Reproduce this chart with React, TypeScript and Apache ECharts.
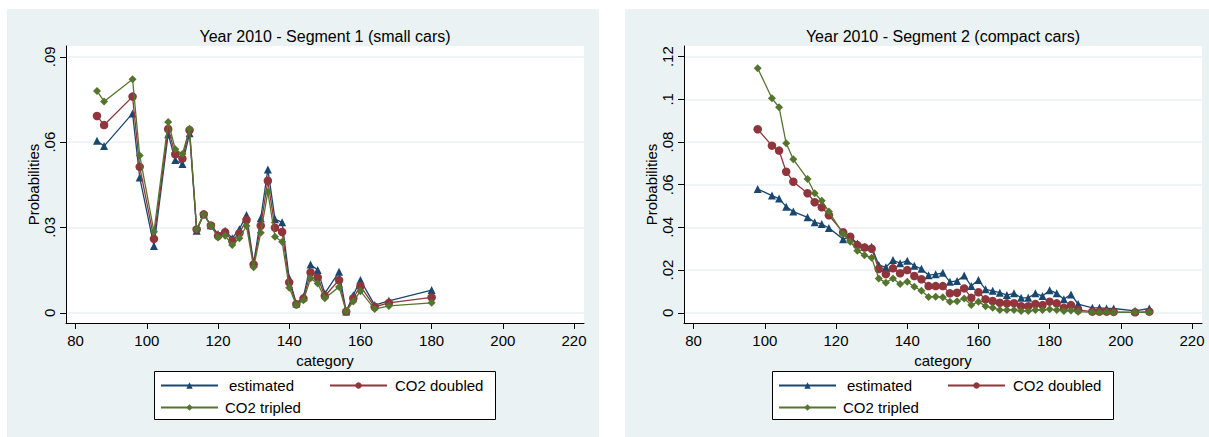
import React, { useEffect, useRef } from "react";
import * as echarts from "echarts";

const FONT = "'Liberation Sans', Arial, Helvetica, sans-serif";

const seriesNames = ["estimated", "CO2 doubled", "CO2 tripled"];
const seriesColors = ["#1a476f", "#90353b", "#55752f"];
const seriesSymbols = ["triangle", "circle", "diamond"];
const seriesSymbolSizes = [8, 8.5, 8];

const panelTitles = [
  "Year 2010 - Segment 1 (small cars)",
  "Year 2010 - Segment 2 (compact cars)",
];

const xTicks = [80, 100, 120, 140, 160, 180, 200, 220];
const yTicks1 = [0, 0.03, 0.06, 0.09];
const yTicks2 = [0, 0.02, 0.04, 0.06, 0.08, 0.1, 0.12];

// Segment 1 (small cars)
const seg1X = [86, 88, 96, 98, 102, 106, 108, 110, 112, 114, 116, 118, 120, 122, 124, 126, 128, 130, 132, 134, 136, 138, 140, 142, 144, 146, 148, 150, 154, 156, 158, 160, 164, 168, 180];
const seg1Est = [0.0605, 0.0586, 0.0701, 0.0476, 0.0235, 0.0628, 0.0537, 0.0523, 0.0631, 0.0288, 0.0346, 0.0308, 0.0277, 0.0288, 0.0262, 0.0294, 0.0344, 0.0174, 0.0332, 0.0504, 0.0329, 0.0318, 0.0121, 0.0033, 0.0056, 0.017, 0.015, 0.0068, 0.0144, 0.0004, 0.0062, 0.0115, 0.0027, 0.0042, 0.008];
const seg1Dbl = [0.0692, 0.066, 0.076, 0.0513, 0.026, 0.0646, 0.0557, 0.0542, 0.0642, 0.0293, 0.0346, 0.0307, 0.027, 0.0283, 0.0253, 0.028, 0.0326, 0.017, 0.0306, 0.0464, 0.0299, 0.0284, 0.0107, 0.003, 0.005, 0.0142, 0.0124, 0.0059, 0.0115, 0.0004, 0.0051, 0.0094, 0.0021, 0.0035, 0.0054];
const seg1Trp = [0.078, 0.0743, 0.0821, 0.0553, 0.0285, 0.0671, 0.0575, 0.0558, 0.0647, 0.0294, 0.0346, 0.0306, 0.0265, 0.0271, 0.0238, 0.0262, 0.0305, 0.016, 0.0281, 0.0425, 0.0267, 0.025, 0.0088, 0.0027, 0.0044, 0.0121, 0.0103, 0.0051, 0.0091, 0.0004, 0.004, 0.0076, 0.0013, 0.0024, 0.0035];

// Segment 2 (compact cars)
const seg2X = [98, 102, 104, 106, 108, 112, 114, 116, 118, 122, 124, 126, 128, 130, 132, 134, 136, 138, 140, 142, 144, 146, 148, 150, 152, 154, 156, 158, 160, 162, 164, 166, 168, 170, 172, 174, 176, 178, 180, 182, 184, 186, 188, 192, 194, 196, 198, 204, 208];
const seg2Est = [0.058, 0.0549, 0.0535, 0.0497, 0.0474, 0.0447, 0.0424, 0.0416, 0.0397, 0.0345, 0.0356, 0.0325, 0.0309, 0.0309, 0.0224, 0.0213, 0.0247, 0.0232, 0.0244, 0.022, 0.0206, 0.0176, 0.018, 0.0187, 0.0145, 0.0149, 0.0174, 0.0125, 0.0153, 0.011, 0.0103, 0.0094, 0.0083, 0.0091, 0.007, 0.007, 0.0091, 0.0078, 0.0106, 0.0091, 0.0063, 0.0086, 0.0041, 0.0023, 0.0023, 0.002, 0.002, 0.0009, 0.002];
const seg2Dbl = [0.086, 0.0783, 0.076, 0.0661, 0.0614, 0.056, 0.0518, 0.0494, 0.0457, 0.0377, 0.0356, 0.0317, 0.0306, 0.03, 0.0205, 0.0181, 0.0208, 0.0185, 0.02, 0.0172, 0.0157, 0.0125, 0.0125, 0.0125, 0.0091, 0.0094, 0.0114, 0.007, 0.0096, 0.0063, 0.0055, 0.0047, 0.0044, 0.0045, 0.0031, 0.0031, 0.0041, 0.0036, 0.0052, 0.0044, 0.0023, 0.0036, 0.0013, 0.0005, 0.0005, 0.0005, 0.0004, 0.0002, 0.0005];
const seg2Trp = [0.1146, 0.1005, 0.0963, 0.0794, 0.0719, 0.0627, 0.056, 0.0525, 0.0474, 0.0369, 0.0333, 0.0291, 0.0269, 0.0258, 0.0161, 0.0141, 0.0161, 0.0135, 0.0145, 0.0122, 0.0103, 0.0074, 0.0075, 0.0073, 0.0051, 0.0054, 0.0067, 0.0036, 0.0052, 0.0031, 0.0023, 0.0013, 0.0013, 0.0013, 0.0008, 0.0008, 0.0013, 0.0013, 0.0017, 0.0013, 0.0008, 0.001, 0.0005, 0.0002, 0.0002, 0.0002, 0.0002, 0.0002, 0.0002];

const panels = [
  { x: seg1X, ys: [seg1Est, seg1Dbl, seg1Trp], yMin: -0.0036, yMax: 0.0938, yTicks: yTicks1 },
  { x: seg2X, ys: [seg2Est, seg2Dbl, seg2Trp], yMin: -0.0048, yMax: 0.125, yTicks: yTicks2 },
];

const PANEL_BG = "#eaf2f3";
const GRID_LEFTS = [66, 684];
const GRID_TOP = 46;
const GRID_W = 518;
const GRID_H = 277;

function fmtY(v: number) {
  const s = String(+v.toFixed(4));
  return s.replace(/^0\./, ".").replace(/^-0\./, "-.");
}

export default function App() {
  const ref = useRef<HTMLDivElement>(null);
  useEffect(() => {
    if (!ref.current) return;
    const chart = echarts.init(ref.current, null, { renderer: "svg" });

    const grids = GRID_LEFTS.map((l) => ({
      left: l,
      top: GRID_TOP,
      width: GRID_W,
      height: GRID_H,
      show: true,
      backgroundColor: "#ffffff",
      borderWidth: 0,
    }));

    const xAxes = panels.map((_, i) => ({
      type: "value",
      gridIndex: i,
      min: 77.3,
      max: 222.8,
      name: "category",
      nameLocation: "middle",
      nameGap: 25,
      nameTextStyle: { fontSize: 15, color: "#000", fontFamily: FONT },
      axisLine: { show: true, onZero: false, lineStyle: { color: "#000", width: 1 } },
      axisTick: { show: true, inside: false, length: 6, customValues: xTicks, lineStyle: { color: "#000", width: 1 } },
      axisLabel: { show: true, customValues: xTicks, fontSize: 15, color: "#000", margin: 10, fontFamily: FONT },
      splitLine: { show: false },
    }));

    const yAxes = panels.map((p, i) => ({
      type: "value",
      gridIndex: i,
      min: p.yMin,
      max: p.yMax,
      name: "Probabilities",
      nameLocation: "middle",
      nameGap: 24,
      nameRotate: 90,
      nameTextStyle: { fontSize: 15, color: "#000", fontFamily: FONT },
      axisLine: { show: true, onZero: false, lineStyle: { color: "#000", width: 1 } },
      axisTick: { show: true, inside: false, length: 6, customValues: p.yTicks, lineStyle: { color: "#000", width: 1 } },
      axisLabel: {
        show: true,
        customValues: p.yTicks,
        rotate: 90,
        fontSize: 15,
        color: "#000",
        margin: 9,
        fontFamily: FONT,
        formatter: (v: number) => fmtY(v),
      },
      splitLine: { show: true, lineStyle: { color: PANEL_BG, width: 1.5 } },
    }));

    const series: any[] = [];
    panels.forEach((p, i) => {
      p.ys.forEach((ys, k) => {
        series.push({
          type: "line",
          name: seriesNames[k],
          xAxisIndex: i,
          yAxisIndex: i,
          data: p.x.map((xv, j) => [xv, ys[j]]),
          symbol: seriesSymbols[k],
          symbolSize: seriesSymbolSizes[k],
          showSymbol: true,
          color: seriesColors[k],
          lineStyle: { color: seriesColors[k], width: 1.3 },
          itemStyle: { color: seriesColors[k] },
          z: 2 + k,
        });
      });
    });

    const legendOffsets = [0, 618];
    const legendItems = [
      { name: seriesNames[0], left: 160, top: 378, pad: 6 },
      { name: seriesNames[1], left: 329, top: 378, pad: 3 },
      { name: seriesNames[2], left: 160, top: 400, pad: 2 },
    ];
    const legends: any[] = [];
    legendOffsets.forEach((off) => {
      legendItems.forEach((it) => {
        legends.push({
          show: true,
          left: it.left + off,
          top: it.top,
          padding: 0,
          itemWidth: 57,
          itemHeight: 8,
          selectedMode: false,
          data: [it.name],
          textStyle: { fontSize: 15, color: "#000", fontFamily: FONT, padding: [0, 0, 0, it.pad] },
        });
      });
    });

    const graphics: any[] = [
      { type: "rect", z: -10, shape: { x: 7, y: 9, width: 592, height: 428 }, style: { fill: PANEL_BG } },
      { type: "rect", z: -10, shape: { x: 625, y: 9, width: 584, height: 428 }, style: { fill: PANEL_BG } },
      { type: "rect", z: -5, shape: { x: 154.5, y: 371.5, width: 341, height: 48 }, style: { fill: "#fff", stroke: "#000", lineWidth: 1 } },
      { type: "rect", z: -5, shape: { x: 772.5, y: 371.5, width: 341, height: 48 }, style: { fill: "#fff", stroke: "#000", lineWidth: 1 } },
    ];
    panelTitles.forEach((t, i) => {
      graphics.push({
        type: "text",
        z: 5,
        x: GRID_LEFTS[i] + GRID_W / 2,
        y: 36,
        style: { text: t, fill: "#000", font: `16px ${FONT}`, textAlign: "center", textVerticalAlign: "middle" },
      });
    });

    chart.setOption({
      animation: false,
      backgroundColor: "#ffffff",
      textStyle: { fontFamily: FONT },
      grid: grids,
      xAxis: xAxes,
      yAxis: yAxes,
      legend: legends,
      graphic: graphics,
      series,
    });
    return () => chart.dispose();
  }, []);
  return <div ref={ref} style={{ position: "absolute", left: 0, top: 0, width: 1209, height: 437 }} />;
}
